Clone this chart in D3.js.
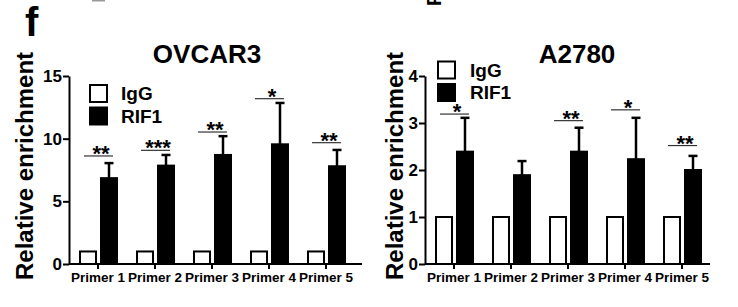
<!DOCTYPE html>
<html>
<head>
<meta charset="utf-8">
<script src="https://cdn.jsdelivr.net/npm/d3@7"></script>
<style>
body{margin:0;background:#fff;}
text{font-family:"Liberation Sans",Arial,sans-serif;font-weight:bold;}
</style>
</head>
<body>
<div id="chart"></div>
<script>
//Data
var primers=["Primer 1","Primer 2","Primer 3","Primer 4","Primer 5"];
var groups=["IgG","RIF1"];

var ovcar3IgG=[1,1,1,1,1];
var ovcar3RIF1=[6.85,7.85,8.7,9.55,7.8];
var ovcar3Err=[1.2,0.85,1.5,3.3,1.3];
var ovcar3Sig=["**","***","**","*","**"];
var ovcar3SigY=[8.62,9.07,10.53,13.19,9.68];
var ovcar3Ticks=[0,5,10,15];

var a2780IgG=[1,1,1,1,1];
var a2780RIF1=[2.39,1.89,2.39,2.23,2.0];
var a2780Err=[0.72,0.3,0.51,0.88,0.3];
var a2780Sig=["*","","**","*","**"];
var a2780SigY=[3.19,null,3.05,3.28,2.52];
var a2780Ticks=[0,1,2,3,4];

var w=738;
var h=307;

var svg=d3.select("#chart")
          .append("svg")
          .attr("width",w)
          .attr("height",h);

//Panel letter
svg.append("text")
   .text("f")
   .attr("x",25)
   .attr("y",36)
   .style("font-size","40px");

//bits of the figure above, cut off at the top
svg.append("rect")
   .attr("x",92).attr("y",0)
   .attr("width",13).attr("height",1.5)
   .attr("fill","#999");
svg.append("text")
   .text("F")
   .attr("transform","translate(441,6) rotate(-90)")
   .style("font-size","20px");

function drawPanel(p) {
    var g=svg.append("g");

    var y=d3.scaleLinear().domain([0,p.ymax]).range([264,76]);
    var x=d3.scaleBand().domain(primers).range([p.x0+0.5,p.x0+0.5+5*57]);
    var x1=d3.scaleBand().domain(groups).range([-18,19]).paddingInner(0.238);

    var rows=primers.map(function(d,i) {
        return {primer:d,igg:p.igg[i],rif:p.rif[i],err:p.err[i],sig:p.sig[i],sigY:p.sigY[i]};
    });

    //Title
    g.append("text")
     .text(p.title)
     .attr("x",p.titleX)
     .attr("y",63)
     .attr("text-anchor","middle")
     .style("font-size","26px");

    //Y label
    g.append("text")
     .text("Relative enrichment")
     .attr("transform","translate("+p.labelX+","+166+") rotate(-90)")
     .attr("text-anchor","middle")
     .style("font-size","24px");

    //Bars
    var grp=g.append("g").selectAll("g")
             .data(rows)
             .enter()
             .append("g")
             .attr("transform",function(d) {return "translate("+(x(d.primer)+x.bandwidth()/2)+",0)";});

    grp.append("rect")
       .attr("x",x1("IgG"))
       .attr("width",x1.bandwidth())
       .attr("y",function(d) {return y(d.igg);})
       .attr("height",function(d) {return y(0)-y(d.igg);})
       .attr("fill","white")
       .attr("stroke","black")
       .attr("stroke-width",2);

    //Error bars (upper only)
    grp.append("line")
       .attr("x1",x1("RIF1")+x1.bandwidth()/2)
       .attr("x2",x1("RIF1")+x1.bandwidth()/2)
       .attr("y1",function(d) {return y(d.rif);})
       .attr("y2",function(d) {return y(d.rif+d.err);})
       .attr("stroke","black")
       .attr("stroke-width",2.5);
    grp.append("line")
       .attr("x1",x1("RIF1")+x1.bandwidth()/2-4.5)
       .attr("x2",x1("RIF1")+x1.bandwidth()/2+4.5)
       .attr("y1",function(d) {return y(d.rif+d.err);})
       .attr("y2",function(d) {return y(d.rif+d.err);})
       .attr("stroke","black")
       .attr("stroke-width",2.5);

    grp.append("rect")
       .attr("x",x1("RIF1"))
       .attr("width",x1.bandwidth())
       .attr("y",function(d) {return y(d.rif);})
       .attr("height",function(d) {return y(0)-y(d.rif);})
       .attr("fill","black")
       .attr("stroke","black")
       .attr("stroke-width",2);

    //Significance
    var sg=grp.filter(function(d) {return d.sig;});
    sg.append("line")
      .attr("x1",-14)
      .attr("x2",15)
      .attr("y1",function(d) {return y(d.sigY);})
      .attr("y2",function(d) {return y(d.sigY);})
      .attr("stroke","#333")
      .attr("stroke-width",1.2);
    sg.append("text")
      .text(function(d) {return d.sig;})
      .attr("x",3)
      .attr("y",function(d) {return y(d.sigY)+5;})
      .attr("text-anchor","middle")
      .style("font-size","22px");

    //Axes
    var yAxis=g.append("g")
               .attr("transform","translate("+p.x0+",0)")
               .call(d3.axisLeft(y).tickValues(p.ticks).tickFormat(d3.format("d")).tickSize(6).tickSizeOuter(0).tickPadding(1));
    var xAxis=g.append("g")
               .attr("transform","translate(0,264)")
               .call(d3.axisBottom(x).tickSize(5).tickSizeOuter(0).tickPadding(3));
    xAxis.select(".domain").attr("d","M"+p.x0+",0H"+p.xEnd);

    yAxis.selectAll("text").style("font-size","17px").attr("fill","black");
    xAxis.selectAll("text").style("font-size","13.5px").attr("fill","black");
    g.selectAll(".domain").attr("stroke","black").attr("stroke-width",2);
    g.selectAll(".tick line").attr("stroke","black").attr("stroke-width",2);

    //Legend
    var leg=g.append("g").selectAll("g")
             .data(groups)
             .enter()
             .append("g")
             .attr("transform",function(d,i) {return "translate("+p.legX+","+(p.legY+i*22.5)+")";});
    leg.append("rect")
       .attr("x",1).attr("y",1)
       .attr("width",17).attr("height",17)
       .attr("fill",function(d) {return d=="IgG" ? "white" : "black";})
       .attr("stroke","black")
       .attr("stroke-width",2);
    leg.append("text")
       .text(function(d) {return d;})
       .attr("x",p.legTextDx)
       .attr("y",16)
       .style("font-size","19px");
}

drawPanel({title:"OVCAR3",titleX:207,labelX:33,x0:69,xEnd:362,ymax:15,ticks:ovcar3Ticks,
           igg:ovcar3IgG,rif:ovcar3RIF1,err:ovcar3Err,sig:ovcar3Sig,sigY:ovcar3SigY,
           legX:89,legY:84,legTextDx:32});
drawPanel({title:"A2780",titleX:577,labelX:403,x0:425,xEnd:710,ymax:4,ticks:a2780Ticks,
           igg:a2780IgG,rif:a2780RIF1,err:a2780Err,sig:a2780Sig,sigY:a2780SigY,
           legX:437,legY:60.5,legTextDx:33});
</script>
</body>
</html>
